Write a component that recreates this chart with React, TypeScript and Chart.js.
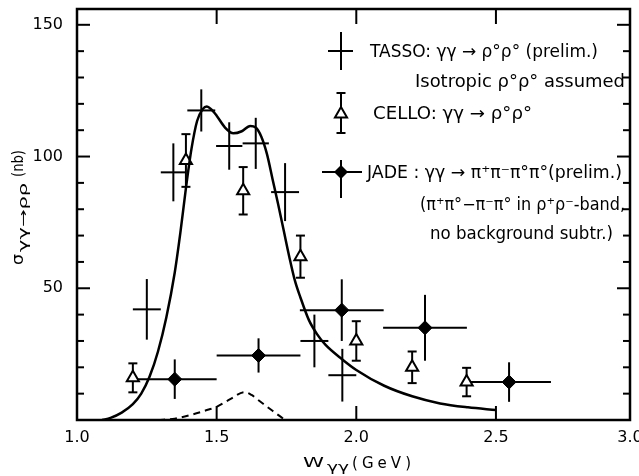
import React, { useEffect, useRef } from "react";
import { Chart, registerables } from "chart.js";

Chart.register(...registerables);

// ---- data ----
const tassoX = [1.25, 1.345, 1.445, 1.545, 1.64, 1.745, 1.85, 1.95];
const tassoY = [42, 94, 117.5, 104, 105, 86.5, 30, 17];
const tassoXErr = [0.05, 0.045, 0.05, 0.047, 0.047, 0.05, 0.05, 0.05];
const tassoYErr = [11.5, 11, 8, 9, 9.7, 11, 10, 10];

const celloX = [1.2, 1.39, 1.595, 1.8, 2.0, 2.2, 2.395];
const celloY = [16, 98.5, 87, 62, 30, 20, 14.4];
const celloYErr = [5.5, 10, 9, 8, 7.5, 6, 5.4];

const jadeX = [1.35, 1.65, 1.948, 2.246, 2.547];
const jadeY = [15.5, 24.5, 41.7, 35, 14.4];
const jadeXErr = [0.15, 0.15, 0.15, 0.15, 0.15];
const jadeYErr = [7.5, 6.5, 11.7, 12.5, 7.5];

const curveX = [1.09, 1.12, 1.16, 1.2, 1.23, 1.26, 1.29, 1.32, 1.35, 1.37, 1.39, 1.41, 1.43, 1.45, 1.465, 1.48, 1.5, 1.53, 1.56, 1.59, 1.62, 1.64, 1.66, 1.68, 1.7, 1.72, 1.74, 1.76, 1.78, 1.8, 1.83, 1.86, 1.89, 1.95, 2.0, 2.1, 2.2, 2.3, 2.4, 2.5];
const curveY = [0, 0.8, 2.8, 6, 10, 16.5, 26, 39, 56, 71, 88, 103, 113.5, 118, 119, 118, 115.5, 111, 108.8, 109.6, 111.6, 111, 107.5, 101, 91.5, 82, 72, 62, 53, 46.5, 38, 32.5, 28.5, 23, 19, 13, 9, 6.3, 4.8, 3.8];

const dashX = [1.29, 1.35, 1.41, 1.46, 1.5, 1.55, 1.6, 1.625, 1.65, 1.7, 1.745];
const dashY = [0, 0.5, 2, 3.6, 5, 8, 10.6, 9.5, 7.5, 3.5, 0];

const xTickValues = [1.0, 1.5, 2.0, 2.5, 2.98];
const xTickLabels = ["1.0", "1.5", "2.0", "2.5", "3.0"];
const yTickValues = [50, 100, 150];
const yTickLabels = ["50", "100", "150"];
const yMinorValues = [10, 20, 30, 40, 50, 60, 70, 80, 90, 100, 110, 120, 130, 140, 150];

const legendLines = [
  "TASSO: γγ → ρ°ρ° (prelim.)",
  "Isotropic ρ°ρ° assumed",
  "CELLO: γγ → ρ°ρ°",
  "JADE : γγ → π⁺π⁻π°π°(prelim.)",
  "(π⁺π°−π⁻π° in ρ⁺ρ⁻-band,",
  "no background subtr.)",
];

const FONT = "'DejaVu Sans', 'Liberation Sans', Arial, sans-serif";

function fitText(ctx: CanvasRenderingContext2D, text: string, x0: number, x1: number, y: number, size: number, mode: "scale" | "space" = "scale") {
  ctx.save();
  ctx.font = `${size}px ${FONT}`;
  ctx.textAlign = "left";
  ctx.textBaseline = "alphabetic";
  const w = ctx.measureText(text).width;
  const target = x1 - x0;
  if (mode === "space" && target >= w) {
    (ctx as any).letterSpacing = `${(target - w) / Math.max(1, text.length - 1)}px`;
    ctx.fillText(text, x0, y);
  } else {
    ctx.translate(x0, y);
    ctx.scale(target / w, 1);
    ctx.fillText(text, 0, 0);
  }
  ctx.restore();
}

function line(ctx: CanvasRenderingContext2D, x1: number, y1: number, x2: number, y2: number) {
  ctx.beginPath();
  ctx.moveTo(x1, y1);
  ctx.lineTo(x2, y2);
  ctx.stroke();
}

function triangle(ctx: CanvasRenderingContext2D, x: number, y: number, r: number) {
  ctx.beginPath();
  ctx.moveTo(x, y - r);
  ctx.lineTo(x + r * 0.866, y + r * 0.5);
  ctx.lineTo(x - r * 0.866, y + r * 0.5);
  ctx.closePath();
  ctx.fillStyle = "#fff";
  ctx.fill();
  ctx.stroke();
}

function diamond(ctx: CanvasRenderingContext2D, x: number, y: number, r: number) {
  ctx.beginPath();
  ctx.moveTo(x, y - r);
  ctx.lineTo(x + r, y);
  ctx.lineTo(x, y + r);
  ctx.lineTo(x - r, y);
  ctx.closePath();
  ctx.fillStyle = "#000";
  ctx.fill();
}

const customPlugin = {
  id: "custom",
  beforeDatasetsDraw(chart: any) {
    const ctx: CanvasRenderingContext2D = chart.ctx;
    const xs = chart.scales.x;
    const ys = chart.scales.y;
    ctx.save();
    ctx.strokeStyle = "#000";
    ctx.lineWidth = 2;
    tassoX.forEach((x, i) => {
      const y = tassoY[i];
      line(ctx, xs.getPixelForValue(x - tassoXErr[i]), ys.getPixelForValue(y), xs.getPixelForValue(x + tassoXErr[i]), ys.getPixelForValue(y));
      line(ctx, xs.getPixelForValue(x), ys.getPixelForValue(y - tassoYErr[i]), xs.getPixelForValue(x), ys.getPixelForValue(y + tassoYErr[i]));
    });
    celloX.forEach((x, i) => {
      const px = xs.getPixelForValue(x);
      const lo = ys.getPixelForValue(celloY[i] - celloYErr[i]);
      const hi = ys.getPixelForValue(celloY[i] + celloYErr[i]);
      line(ctx, px, lo, px, hi);
      line(ctx, px - 4.5, lo, px + 4.5, lo);
      line(ctx, px - 4.5, hi, px + 4.5, hi);
    });
    jadeX.forEach((x, i) => {
      const y = jadeY[i];
      line(ctx, xs.getPixelForValue(x - jadeXErr[i]), ys.getPixelForValue(y), xs.getPixelForValue(x + jadeXErr[i]), ys.getPixelForValue(y));
      line(ctx, xs.getPixelForValue(x), ys.getPixelForValue(y - jadeYErr[i]), xs.getPixelForValue(x), ys.getPixelForValue(y + jadeYErr[i]));
    });
    ctx.restore();
  },
  afterDraw(chart: any) {
    const ctx: CanvasRenderingContext2D = chart.ctx;
    const ca = chart.chartArea;
    const xs = chart.scales.x;
    const ys = chart.scales.y;
    ctx.save();
    ctx.strokeStyle = "#000";
    ctx.fillStyle = "#000";
    ctx.lineWidth = 2.5;
    ctx.strokeRect(ca.left, ca.top, ca.right - ca.left, ca.bottom - ca.top);
    ctx.lineWidth = 2;
    yMinorValues.forEach((v) => {
      const py = ys.getPixelForValue(v);
      const len = v % 50 === 0 ? 13 : 7;
      line(ctx, ca.left, py, ca.left + len, py);
      line(ctx, ca.right, py, ca.right - len, py);
    });
    [1.5, 2.0, 2.5].forEach((v) => {
      const px = xs.getPixelForValue(v);
      line(ctx, px, ca.bottom, px, ca.bottom - 14);
      line(ctx, px, ca.top, px, ca.top + 15);
    });

    // legend symbols
    ctx.lineWidth = 2;
    line(ctx, 328, 51, 353, 51);
    line(ctx, 341, 32, 341, 70);
    line(ctx, 341, 93, 341, 133);
    line(ctx, 336.5, 93, 345.5, 93);
    line(ctx, 336.5, 133, 345.5, 133);
    triangle(ctx, 341, 114, 7);
    line(ctx, 322, 172, 362, 172);
    line(ctx, 341, 160, 341, 198);
    diamond(ctx, 341, 172, 7);

    ctx.fillStyle = "#000";
    fitText(ctx, legendLines[0], 370, 598, 57, 17);
    fitText(ctx, legendLines[1], 415, 625, 87, 17);
    fitText(ctx, legendLines[2], 373, 532, 119, 17);
    fitText(ctx, legendLines[3], 367, 622, 178, 17);
    fitText(ctx, legendLines[4], 420, 625, 210, 17);
    fitText(ctx, legendLines[5], 430, 613, 239, 17);

    // x title
    fitText(ctx, "W", 303, 324, 467, 14);
    fitText(ctx, "γγ", 327, 349, 471, 12);
    fitText(ctx, "(GeV)", 352, 411, 468, 15, "space");

    // y title (rotated)
    ctx.save();
    ctx.translate(23, 265);
    ctx.rotate(-Math.PI / 2);
    fitText(ctx, "σ", 0, 11, 0, 16);
    ctx.restore();
    ctx.save();
    ctx.translate(27, 265);
    ctx.rotate(-Math.PI / 2);
    fitText(ctx, "γγ→ρρ", 13, 82, 0, 12);
    ctx.restore();
    ctx.save();
    ctx.translate(23, 265);
    ctx.rotate(-Math.PI / 2);
    fitText(ctx, "(nb)", 88, 115, 0, 15);
    ctx.restore();

    ctx.restore();
  },
};

export default function App() {
  const ref = useRef<HTMLCanvasElement>(null);
  useEffect(() => {
    if (!ref.current) return;
    Chart.defaults.font.family = FONT;
    const chart = new Chart(ref.current, {
      type: "scatter",
      data: {
        datasets: [
          {
            data: curveX.map((x, i) => ({ x, y: curveY[i] })),
            showLine: true,
            borderColor: "#000",
            borderWidth: 2.5,
            pointRadius: 0,
            cubicInterpolationMode: "monotone",
          } as any,
          {
            data: dashX.map((x, i) => ({ x, y: dashY[i] })),
            showLine: true,
            borderColor: "#000",
            borderWidth: 2,
            borderDash: [7, 5],
            pointRadius: 0,
            cubicInterpolationMode: "monotone",
          } as any,
          {
            data: tassoX.map((x, i) => ({ x, y: tassoY[i] })),
            pointRadius: 0,
          },
          {
            data: celloX.map((x, i) => ({ x, y: celloY[i] })),
            pointStyle: "triangle",
            pointRadius: 7,
            backgroundColor: "#fff",
            borderColor: "#000",
            borderWidth: 2,
          },
          {
            data: jadeX.map((x, i) => ({ x, y: jadeY[i] })),
            pointStyle: "rectRot",
            pointRadius: 7,
            backgroundColor: "#000",
            borderColor: "#000",
            borderWidth: 1,
          },
        ],
      },
      options: {
        animation: false,
        responsive: false,
        devicePixelRatio: 1,
        layout: { padding: { top: 7, right: 5, left: 0, bottom: 0 } },
        plugins: { legend: { display: false }, tooltip: { enabled: false } },
        scales: {
          x: {
            type: "linear",
            min: 1.0,
            max: 2.98,
            grid: { display: false, drawTicks: false },
            border: { display: false },
            ticks: {
              color: "#000",
              font: { size: 16 },
              padding: 8,
              maxRotation: 0,
              autoSkip: false,
              callback: (v: any, i: number) => xTickLabels[i] ?? "",
            },
            afterBuildTicks: (scale: any) => {
              scale.ticks = xTickValues.map((value) => ({ value }));
            },
            afterFit: (scale: any) => {
              scale.height = 56;
              scale.paddingLeft = 0;
              scale.paddingRight = 0;
            },
          },
          y: {
            type: "linear",
            min: 0,
            max: 156,
            grid: { display: false, drawTicks: false },
            border: { display: false },
            ticks: {
              color: "#000",
              font: { size: 16 },
              padding: 14,
              autoSkip: false,
              callback: (v: any, i: number) => yTickLabels[i] ?? "",
            },
            afterBuildTicks: (scale: any) => {
              scale.ticks = yTickValues.map((value) => ({ value }));
            },
            afterFit: (scale: any) => {
              scale.width = 77;
              scale.paddingTop = 0;
              scale.paddingBottom = 0;
            },
          },
        },
      },
      plugins: [customPlugin],
    });
    return () => chart.destroy();
  }, []);
  return (
    <div style={{ position: "absolute", left: 0, top: 0, width: 639, height: 476, background: "#fff" }}>
      <canvas ref={ref} width={639} height={476} style={{ display: "block" }} />
    </div>
  );
}
